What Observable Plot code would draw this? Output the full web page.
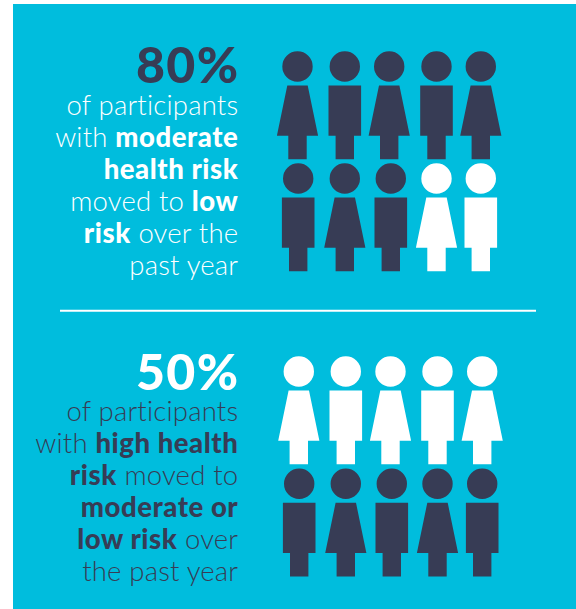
<!DOCTYPE html>
<html><head><meta charset="utf-8">
<script src="https://cdn.jsdelivr.net/npm/d3@7"></script>
<script src="https://cdn.jsdelivr.net/npm/@observablehq/plot@0.6"></script>
<style>html,body{margin:0;padding:0;background:#fff}#c{position:absolute;left:13px;top:4px}</style>
</head><body><div id="c"></div>
<script>
// data
const panelIds = ["top", "bottom"];
const figureKinds = {
  top: ["dress","suit","dress","suit","dress","suit","dress","suit","dress","suit"],
  bottom: ["dress","suit","dress","suit","dress","suit","dress","suit","dress","suit"]
};
const figureTones = {
  top: ["ink","ink","ink","ink","ink","ink","ink","ink","paper","paper"],
  bottom: ["paper","paper","paper","paper","paper","ink","ink","ink","ink","ink"]
};
const percentLabels = { top: "80%", bottom: "50%" };
const percentTones = { top: "ink", bottom: "paper" };
const copyTones = { top: "paper", bottom: "ink" };
const copyLines = {
  top: ["of participants","with **moderate**","**health risk**","moved to **low**","**risk** over the","past year"],
  bottom: ["of participants","with **high health**","**risk** moved to","**moderate or**","**low risk** over","the past year"]
};

// layout (scale ranges, in page pixels)
const OX = 13, OY = 4;
const figX = {
  top: [297,344.3,388.7,436,480.3, 297.7,344.3,390.3,436,480.3],
  bottom: [298.3,345.3,390,437,481.7, 298.7,345.3,391.3,437,481.7]
};
const figY = { top: [66,178], bottom: [371,483.3] };
const percentY = { top: 82, bottom: 389 };
const lineY = { top: [114,146,178,210,242,274], bottom: [420,452,484,516,548,580] };

const figures = panelIds.flatMap(p => figureKinds[p].map((kind,i) => ({
  key: `${p}-${i}`, row: `${p}-r${i<5?0:1}`, kind, tone: figureTones[p][i]
})));
const percents = panelIds.map(p => ({ row:`${p}-pct`, text: percentLabels[p], tone: percentTones[p] }));
const lines = panelIds.flatMap(p => copyLines[p].map((text,i) => ({ row:`${p}-l${i}`, text, tone: copyTones[p] })));

const xDomain = [...figures.map(f=>f.key), "textRight", "ruleLeft", "ruleRight"];
const xRange = [...panelIds.flatMap(p=>figX[p]), 237.8, 60, 536].map(v=>v-OX);
const yDomain = [...panelIds.flatMap(p=>[`${p}-r0`,`${p}-r1`,`${p}-pct`,...copyLines[p].map((_,i)=>`${p}-l${i}`)]), "divider"];
const yRange = [...panelIds.flatMap(p=>[...figY[p],percentY[p],...lineY[p]]), 310.3].map(v=>v-OY);

// figure symbols, drawn around the head centre; size = π r², r = head radius
function person(kind){
  return { draw(ctx,size){
    const r = Math.sqrt(size/Math.PI), k = r/15.2;
    ctx.moveTo(r,0); ctx.arc(0,0,r,0,2*Math.PI); ctx.closePath();
    const legs=9.2*k, top=19*k, hip=69.3*k, foot=92.7*k;
    if(kind==="dress"){
      ctx.moveTo(-10.2*k,top); ctx.lineTo(10.2*k,top); ctx.lineTo(20.6*k,hip);
    } else {
      ctx.moveTo(-16.3*k,top); ctx.lineTo(16.3*k,top); ctx.lineTo(16.3*k,hip);
    }
    ctx.lineTo(legs,hip); ctx.lineTo(legs,foot); ctx.lineTo(-legs,foot); ctx.lineTo(-legs,hip);
    ctx.lineTo(kind==="dress"?-20.6*k:-16.3*k,hip); ctx.closePath();
  }};
}
const INK="#373c55", PAPER="#ffffff", FONT="Lato, sans-serif";
const tone = t => t==="ink"?INK:PAPER;

const chart = Plot.plot({
  width: 563, height: 605,
  margin: 0,
  style: { background: "#00bddd", fontFamily: FONT, overflow:"hidden" },
  x: { type:"ordinal", domain:xDomain, range:xRange, axis:null },
  y: { type:"ordinal", domain:yDomain, range:yRange, axis:null },
  marks: [
    Plot.ruleY(["divider"], { y:d=>d, x1:()=>"ruleLeft", x2:()=>"ruleRight", stroke:PAPER, strokeWidth:2 }),
    ...["dress","suit"].map(kind => Plot.dot(figures.filter(f=>f.kind===kind), {
      x:"key", y:"row", r:15.2, symbol:person(kind), fill:d=>tone(d.tone), stroke:null
    })),
    Plot.text(percents, { x:()=>"textRight", y:"row", text:"text", textAnchor:"end", lineAnchor:"bottom", dx:1, fontSize:50, fontWeight:900, fill:d=>tone(d.tone), className:"pct" }),
    Plot.text(lines, { x:()=>"textRight", y:"row", text:"text", textAnchor:"end", lineAnchor:"bottom", fontSize:27.5, fontWeight:300, fill:d=>tone(d.tone), className:"copy" })
  ]
});
d3.select("#c").append(()=>chart);
d3.select(chart).selectAll(".pct text").attr("letter-spacing", 1.3);
// split **bold** runs into tspans, keeping the lines as real text
d3.select(chart).selectAll(".copy text").each(function(){
  const parts = this.textContent.split("**");
  const sel = d3.select(this); sel.text(null);
  parts.forEach((s,i)=>{ if(s) sel.append("tspan").attr("font-weight", i%2?900:300).attr("letter-spacing", i%2?0.55:0.2).text(s); });
});
</script></body></html>
